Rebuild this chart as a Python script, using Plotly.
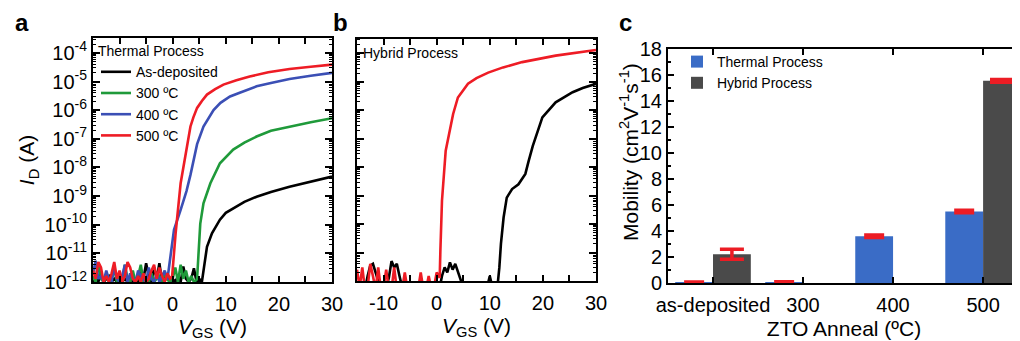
import plotly.graph_objects as go

FONT = "Arial, 'Liberation Sans', Helvetica, sans-serif"

# ---------------- data ----------------
noise_v = [-15.0, -14.5, -14.0, -13.5, -13.0, -12.5, -12.0, -11.5, -11.0, -10.5,
           -10.0, -9.5, -9.0, -8.5, -8.0, -7.5, -7.0, -6.5, -6.0, -5.5,
           -5.0, -4.5, -4.0, -3.5, -3.0, -2.5, -2.0, -1.5, -1.0, -0.5,
           0.0, 0.5, 1.0, 1.5, 2.0, 2.5, 3.0, 3.5, 4.0, 4.5,
           5.0, 5.5, 6.0, 6.5, 7.0, 7.5, 8.0, 8.5, 9.0, 9.5,
           10.0, 10.5, 11.0, 11.5]

# Panel a (thermal process)
asdep_noise_i = [1.0e-12, 1.3e-12, 1.0e-12, 2.0e-12, 1.0e-12, 1.3e-12, 1.6e-12, 1.0e-12, 1.3e-12, 1.0e-12,
                 2.0e-12, 1.0e-12, 1.3e-12, 1.0e-12, 1.6e-12, 1.0e-12, 1.3e-12, 1.0e-12, 2.5e-12, 1.3e-12,
                 4.5e-12, 1.6e-12, 1.0e-12, 3.2e-12, 1.3e-12, 4.5e-12, 1.0e-12, 1.3e-12, 2.0e-12, 1.0e-12,
                 1.3e-12, 1.0e-12, 1.6e-12, 1.0e-12, 3.5e-12, 1.3e-12, 1.0e-12, 1.3e-12, 3.0e-12, 1.0e-12,
                 1.3e-12, 1.0e-12]
asdep_on_v = [5.8, 6.1, 6.46, 7.4, 8.9, 10.0, 11.4, 13.5, 15.8, 18.5, 22.0, 26.0, 30.0]
asdep_on_i = [2.6e-12, 5.9e-12, 1.7e-11, 5.0e-11, 1.5e-10, 2.6e-10, 3.8e-10, 6.3e-10, 9.5e-10,
              1.4e-9, 2.1e-9, 3.2e-9, 4.8e-9]

t300_noise_i = [1.6e-12, 1.0e-12, 4.5e-12, 1.3e-12, 1.0e-12, 2.0e-12, 1.0e-12, 1.3e-12, 3.0e-12, 1.0e-12,
                1.6e-12, 1.0e-12, 4.0e-12, 1.3e-12, 1.0e-12, 2.5e-12, 1.0e-12, 1.6e-12, 4.0e-12, 1.0e-12,
                1.3e-12, 1.0e-12, 2.0e-12, 1.0e-12, 1.3e-12, 1.6e-12, 1.0e-12, 2.0e-12, 1.2e-12, 1.0e-12,
                1.3e-12, 3.2e-12, 1.0e-12, 4.0e-12, 1.3e-12, 2.5e-12, 1.0e-12, 1.6e-12, 1.0e-12, 1.2e-12]
t300_on_v = [4.6, 4.9, 5.2, 5.8, 7.1, 8.9, 9.6, 11.4, 13.5, 15.8, 18.5, 22.0, 26.0, 30.0]
t300_on_i = [1.35e-12, 1.3e-11, 1.1e-10, 5.6e-10, 2.8e-9, 1.4e-8, 1.9e-8, 4.2e-8, 7.4e-8, 1.2e-7,
             1.9e-7, 2.7e-7, 3.8e-7, 5.2e-7]

t400_noise_i = [2.0e-12, 5.5e-12, 1.3e-12, 1.6e-12, 1.0e-12, 2.5e-12, 1.2e-12, 1.0e-12, 3.2e-12, 1.3e-12,
                1.0e-12, 1.6e-12, 4.0e-12, 1.0e-12, 2.0e-12, 1.3e-12, 1.0e-12, 2.5e-12, 1.6e-12, 1.2e-12,
                1.0e-12, 3.2e-12, 1.3e-12, 1.0e-12, 2.0e-12, 1.0e-12, 1.6e-12, 2.5e-12, 1.2e-12]
t400_on_v = [-0.5, -0.37, 0.25, 1.5, 2.6, 3.35, 4.0, 4.6, 5.8, 7.7, 9.0, 10.8, 12.5, 15.8, 18.5, 22.0,
             26.0, 30.0]
t400_on_i = [6.0e-12, 1.3e-11, 6.6e-11, 3.3e-10, 1.5e-9, 5.5e-9, 1.9e-8, 6.5e-8, 2.7e-7, 1.0e-6, 1.8e-6,
             3.0e-6, 4.0e-6, 6.8e-6, 8.9e-6, 1.23e-5, 1.6e-5, 2.0e-5]

t500_noise_i = [2.5e-12, 1.3e-12, 5.0e-12, 3.2e-12, 1.0e-12, 1.6e-12, 1.0e-12, 2.0e-12, 5.0e-12, 1.3e-12,
                2.5e-12, 1.0e-12, 1.6e-12, 5.0e-12, 3.2e-12, 1.3e-12, 1.0e-12, 1.6e-12, 1.0e-12, 2.0e-12,
                1.0e-12, 1.3e-12, 2.5e-12, 4.0e-12, 1.3e-12, 3.2e-12, 1.6e-12, 1.0e-12, 2.0e-12, 1.3e-12]
t500_on_v = [-0.1, 0.1, 0.56, 1.5, 2.3, 2.73, 3.35, 3.9, 4.6, 5.5, 6.46, 8.0, 9.56, 12.0, 14.5, 18.0,
             22.0, 26.0, 30.0]
t500_on_i = [1.6e-12, 5.9e-12, 5.1e-11, 2.8e-9, 1.9e-8, 7.1e-8, 2.7e-7, 5.6e-7, 1.2e-6, 2.1e-6, 3.5e-6,
             5.4e-6, 7.8e-6, 1.1e-5, 1.5e-5, 2.1e-5, 2.75e-5, 3.3e-5, 3.9e-5]

a_names = ["As-deposited", "300 ºC", "400 ºC", "500 ºC"]
a_colors = ["#000000", "#1f9a3a", "#3b4fb5", "#ee1c25"]

# Panel b (hybrid process)
hyb_asdep_noise_i = [5e-13, 5e-13, 6e-13, 5e-13, 1.5e-12, 3.5e-12, 4e-12, 2e-12, 1.2e-12, 5e-13,
                     5e-13, 6e-13, 1.3e-12, 5e-12, 3e-12, 4e-12, 1.5e-12, 6e-13, 5e-13, 5e-13,
                     5e-13, 6e-13, 5e-13, 5e-13, 6e-13, 5e-13, 5e-13, 6e-13, 5e-13, 5e-13,
                     6e-13, 5e-13, 1.5e-12, 3e-12, 2e-12, 4.5e-12, 2.5e-12, 4e-12, 2e-12, 1.2e-12,
                     6e-13, 5e-13, 5e-13, 6e-13, 5e-13, 5e-13, 6e-13, 5e-13, 5e-13, 6e-13,
                     1.5e-12, 6e-13, 5e-13, 8e-13]
hyb_asdep_on_v = [11.6, 11.8, 12.1, 12.6, 13.2, 14.2, 15.4, 16.7, 17.3, 18.1, 19.9, 21.0, 22.4, 25.6,
                  27.5, 30.0]
hyb_asdep_on_i = [1.15e-12, 2.95e-12, 2.0e-11, 1.7e-10, 8.5e-10, 1.7e-9, 2.5e-9, 5.8e-9, 1.6e-8, 5.6e-8,
                  5.6e-7, 1.0e-6, 1.9e-6, 4.3e-6, 6.0e-6, 8.5e-6]

hyb_500_noise_i = [2.5e-12, 6e-13, 3e-12, 5e-13, 6e-13, 4e-12, 1.5e-12, 5e-13, 3e-12, 5e-13,
                   6e-13, 2.5e-12, 5e-13, 5e-13, 3e-12, 5e-13, 6e-13, 5e-13, 2e-12, 5e-13,
                   5e-13, 5e-13, 6e-13, 5e-13, 2e-12, 5e-13, 5e-13, 1.5e-12, 5e-13, 6e-13,
                   2e-12]
hyb_500_on_v = [0.57, 0.7, 1.0, 1.7, 2.5, 3.1, 4.0, 5.9, 7.5, 9.7, 12.5, 16.1, 22.4, 26.0, 30.0]
hyb_500_on_i = [1.3e-12, 1.15e-11, 6.6e-10, 3.8e-8, 1.9e-7, 7.4e-7, 2.8e-6, 8.5e-6, 1.35e-5, 2.1e-5,
                3.2e-5, 4.9e-5, 8.3e-5, 1.05e-4, 1.3e-4]

# Panel c (mobility)
anneal_cats = ["as-deposited", "300", "400", "500"]
mob_thermal = [0.04, 0.06, 3.6, 5.5]
mob_thermal_err = [0.03, 0.03, 0.1, 0.1]
mob_hybrid = [2.21, None, None, 15.55]
mob_hybrid_err = [0.38, None, None, 0.1]

log_tickvals = [1e-12, 1e-11, 1e-10, 1e-9, 1e-8, 1e-7, 1e-6, 1e-5, 1e-4]
log_ticktext = ["10<sup>-12</sup>", "10<sup>-11</sup>", "10<sup>-10</sup>", "10<sup>-9</sup>",
                "10<sup>-8</sup>", "10<sup>-7</sup>", "10<sup>-6</sup>", "10<sup>-5</sup>",
                "10<sup>-4</sup>"]
v_tickvals = [-10, 0, 10, 20, 30]
v_ticktext = ["-10", "0", "10", "20", "30"]

# ---------------- figure ----------------
fig = go.Figure()

a_series = [
    (asdep_noise_i, asdep_on_v, asdep_on_i),
    (t300_noise_i, t300_on_v, t300_on_i),
    (t400_noise_i, t400_on_v, t400_on_i),
    (t500_noise_i, t500_on_v, t500_on_i),
]
for (nz, onv, oni), name, col in zip(a_series, a_names, a_colors):
    fig.add_trace(go.Scatter(
        x=noise_v[:len(nz)] + onv, y=nz + oni, mode="lines", name=name,
        line=dict(color=col, width=2.6), xaxis="x", yaxis="y", legend="legend",
    ))

for nz, onv, oni, col in [(hyb_asdep_noise_i, hyb_asdep_on_v, hyb_asdep_on_i, "#000000"),
                          (hyb_500_noise_i, hyb_500_on_v, hyb_500_on_i, "#ee1c25")]:
    fig.add_trace(go.Scatter(
        x=noise_v[:len(nz)] + onv, y=nz + oni, mode="lines", showlegend=False,
        line=dict(color=col, width=2.6), xaxis="x2", yaxis="y2",
    ))

err_col = "#ec1c24"
fig.add_trace(go.Bar(
    x=anneal_cats, y=mob_thermal, name="Thermal Process", marker=dict(color="#3a6cc6", line=dict(width=0)),
    error_y=dict(type="data", array=mob_thermal_err, color=err_col, thickness=3.5, width=10),
    xaxis="x3", yaxis="y3", legend="legend2",
))
fig.add_trace(go.Bar(
    x=anneal_cats, y=mob_hybrid, name="Hybrid Process", marker=dict(color="#4a4a4a", line=dict(width=0)),
    error_y=dict(type="data", array=mob_hybrid_err, color=err_col, thickness=3.5, width=12),
    xaxis="x3", yaxis="y3", legend="legend2",
))

# the page body adds an 8 px offset, so the figure is sized to fill the rest of the window
OFF = 8
W, H = 1020 - OFF, 341 - OFF
def px(x):
    return (x - OFF) / W
def py(y):
    return 1 - (y - OFF) / H

tickfont = dict(family=FONT, size=20, color="black")
titlefont = dict(family=FONT, size=21, color="black")

common_x = dict(
    type="linear", range=[-15, 30], tickmode="array", tickvals=v_tickvals, ticktext=v_ticktext,
    ticks="inside", ticklen=6, tickwidth=2, tickcolor="black", ticklabelstandoff=3,
    minor=dict(ticks="inside", ticklen=6, tickwidth=2, tickcolor="black", dtick=5, tick0=0),
    showline=True, linewidth=2, linecolor="black", mirror="allticks", automargin=False,
    showgrid=False, zeroline=False, tickfont=tickfont,
)
common_y = dict(
    type="log", range=[-12, -3.48], tickmode="array", tickvals=log_tickvals,
    ticks="inside", ticklen=7, tickwidth=2, tickcolor="black",
    minor=dict(ticks="inside", ticklen=3, tickwidth=1.2, tickcolor="black", dtick="D1"),
    showline=True, linewidth=2, linecolor="black", mirror="allticks", automargin=False,
    showgrid=False, zeroline=False, tickfont=tickfont,
)

legfont = dict(family=FONT, size=14, color="black")

fig.update_layout(
    width=W, height=H, margin=dict(l=0, r=0, t=0, b=0, autoexpand=False),
    paper_bgcolor="white", plot_bgcolor="white",
    font=dict(family=FONT, color="black"),
    barmode="group", bargap=0.16, bargroupgap=0.0,
    xaxis=dict(common_x, domain=[px(93), px(332)],
               title=dict(text="<i>V</i><sub>GS</sub> (V)", font=titlefont, standoff=4), anchor="y"),
    yaxis=dict(common_y, domain=[py(282), py(38)], ticktext=log_ticktext,
               title=dict(text="<i>I</i><sub>D</sub> (A)", font=titlefont, standoff=4), anchor="x"),
    xaxis2=dict(common_x, domain=[px(357), px(596)],
                title=dict(text="<i>V</i><sub>GS</sub> (V)", font=titlefont, standoff=4), anchor="y2"),
    yaxis2=dict(common_y, domain=[py(281), py(38.5)], showticklabels=False, anchor="x2"),
    xaxis3=dict(type="category", domain=[px(668), 1.0], range=[-0.5, 3.41], anchor="y3",
                ticks="inside", ticklen=6, tickwidth=2, tickcolor="black", automargin=False,
                ticklabelstandoff=3,
                showline=True, linewidth=2, linecolor="black", mirror="allticks",
                showgrid=False, zeroline=False, tickfont=tickfont,
                title=dict(text="ZTO Anneal (ºC)", font=titlefont, standoff=6)),
    yaxis3=dict(domain=[py(283), py(49)], range=[0, 18], anchor="x3", dtick=2, automargin=False,
                ticks="inside", ticklen=6, tickwidth=2, tickcolor="black",
                minor=dict(ticks="inside", ticklen=3, tickwidth=1.5, tickcolor="black", dtick=1),
                showline=True, linewidth=2, linecolor="black", mirror=False,
                showgrid=False, zeroline=False, tickfont=tickfont),
    legend=dict(x=px(96), y=py(38), xanchor="left", yanchor="top", bgcolor="rgba(0,0,0,0)",
                font=legfont, tracegroupgap=0,
                title=dict(text="Thermal Process", font=legfont, side="top")),
    legend2=dict(x=px(677), y=py(46), xanchor="left", yanchor="top", bgcolor="rgba(0,0,0,0)",
                 font=legfont, tracegroupgap=0),
    showlegend=True,
)

# y title of panel c, placed where the reference has it (above the axis centre)
fig.add_annotation(text="Mobility (cm<sup>2</sup>V<sup>-1</sup>s<sup>-1</sup>)",
                   x=px(629), y=py(152), xref="paper", yref="paper", textangle=-90,
                   xanchor="center", yanchor="middle", showarrow=False, font=titlefont)
fig.add_annotation(text="Hybrid Process", x=px(361), y=py(53), xref="paper", yref="paper",
                   xanchor="left", yanchor="middle", showarrow=False,
                   font=legfont)
for letter, xx in [("a", 22), ("b", 340), ("c", 625)]:
    fig.add_annotation(text="<b>%s</b>" % letter, x=px(xx), y=py(22), xref="paper", yref="paper",
                       xanchor="center", yanchor="middle", showarrow=False,
                       font=dict(family=FONT, size=24, color="black"))

fig.write_html("out.html")
